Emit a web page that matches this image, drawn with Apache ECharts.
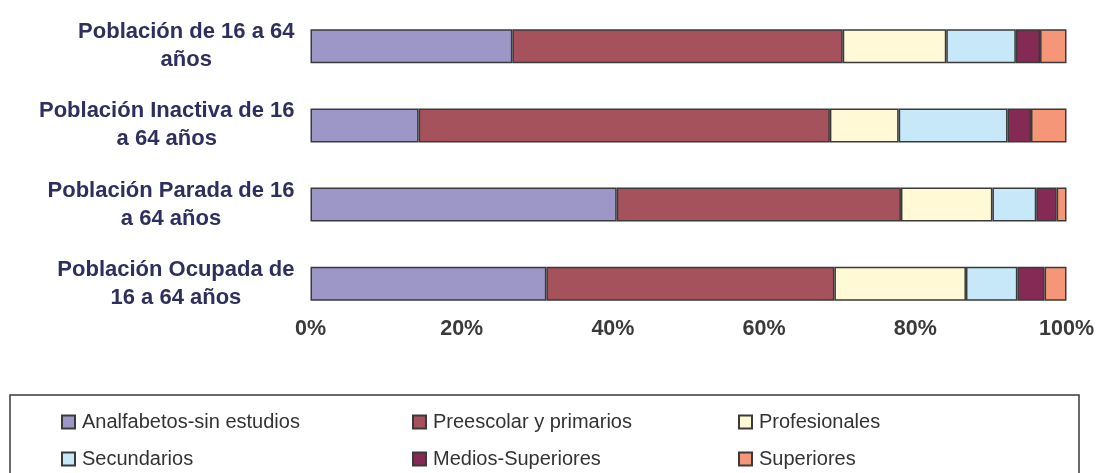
<!DOCTYPE html>
<html>
<head>
<meta charset="utf-8">
<script src="https://cdn.jsdelivr.net/npm/echarts@6/dist/echarts.min.js"></script>
<style>
  html, body { margin: 0; padding: 0; background: #fff; }
  #chart { width: 1098px; height: 473px; }
</style>
</head>
<body>
<div id="chart"></div>
<script>
// Categories, top to bottom
const categories = [
  'Población de 16 a 64\naños',
  'Población Inactiva de 16\na 64 años',
  'Población Parada de 16\na 64 años',
  'Población Ocupada de\n16 a 64 años'
]
const seriesNames = [
  'Analfabetos-sin estudios',
  'Preescolar y primarios',
  'Profesionales',
  'Secundarios',
  'Medios-Superiores',
  'Superiores'
]
const analfabetos = [26.7, 14.3, 40.5, 31.2]
const primarios = [43.7, 54.4, 37.6, 38.1]
const profesionales = [13.7, 9.1, 12.1, 17.4]
const secundarios = [9.2, 14.4, 5.8, 6.8]
const mediosSup = [3.2, 3.1, 2.7, 3.6]
const superiores = [3.5, 4.7, 1.3, 2.9]
const xTicks = [0, 20, 40, 60, 80, 100]

const seriesData = [analfabetos, primarios, profesionales, secundarios, mediosSup, superiores]
const colors = ['#9D97C8', '#A5525D', '#FFF9D5', '#C6E8F8', '#842A54', '#F59678']

const chart = echarts.init(document.getElementById('chart'))

const legendBase = {
  orient: 'vertical',
  top: 406,
  height: 80,
  itemWidth: 13,
  itemHeight: 13,
  itemGap: 15,
  icon: 'rect',
  selectedMode: false,
  textStyle: {
    fontFamily: 'Liberation Sans, Arial, sans-serif',
    fontSize: 20,
    lineHeight: 22,
    color: '#333333',
    padding: [0, 0, 0, 2]
  }
}

chart.setOption({
  animation: false,
  color: colors,
  grid: { left: 310.5, right: 31.5, top: 6.7, bottom: 149.7 },
  xAxis: {
    type: 'value',
    min: xTicks[0],
    max: xTicks[xTicks.length - 1],
    interval: xTicks[1] - xTicks[0],
    axisLine: { show: false },
    axisTick: { show: false },
    splitLine: { show: false },
    axisLabel: {
      margin: -5,
      formatter: '{value}%',
      fontFamily: 'Liberation Sans, Arial, sans-serif',
      fontWeight: 'bold',
      fontSize: 21.5,
      color: '#3a3a3a'
    }
  },
  yAxis: {
    type: 'category',
    inverse: true,
    data: categories,
    axisLine: { show: false },
    axisTick: { show: false },
    axisLabel: {
      margin: 16,
      align: 'right',
      formatter: v => v.split('\n').map(l => '{c|' + l + '}').join('\n'),
      rich: {
        c: {
          align: 'center',
          fontFamily: 'Liberation Sans, Arial, sans-serif',
          fontWeight: 'bold',
          fontSize: 22,
          lineHeight: 28,
          color: '#2F2F5F'
        }
      }
    }
  },
  legend: [
    Object.assign({ left: 56, data: [seriesNames[0], seriesNames[3]] }, legendBase),
    Object.assign({ left: 407, data: [seriesNames[1], seriesNames[4]] }, legendBase),
    Object.assign({ left: 733, data: [seriesNames[2], seriesNames[5]] }, legendBase)
  ],
  graphic: [{
    type: 'rect',
    shape: { x: 10, y: 395, width: 1069, height: 100 },
    style: { fill: 'none', stroke: '#3a3a3a', lineWidth: 1.5 },
    silent: true
  }],
  series: seriesNames.map((name, i) => ({
    name: name,
    type: 'bar',
    stack: 'total',
    barWidth: 34,
    data: seriesData[i],
    itemStyle: { borderColor: '#3a3a3a', borderWidth: 1.5 }
  }))
})
</script>
</body>
</html>
